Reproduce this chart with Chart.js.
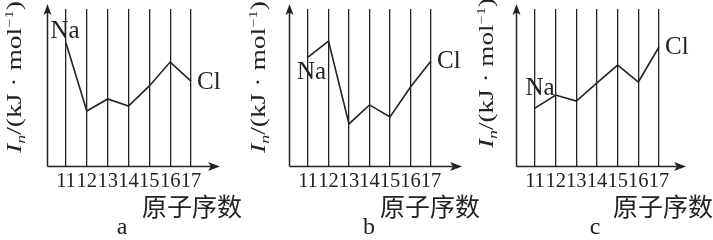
<!DOCTYPE html>
<html><head><meta charset="utf-8">
<script src="https://cdn.jsdelivr.net/npm/chart.js@4.4.1/dist/chart.umd.min.js"></script>
<style>
html,body{margin:0;padding:0;background:#fff;}
body{position:relative;width:713px;height:240px;overflow:hidden;}
.panel{position:absolute;top:0;height:240px;}
canvas{display:block;}
</style></head><body>
<div class="panel" style="left:0px;width:242px"><canvas id="ca" width="242" height="240"></canvas></div>
<div class="panel" style="left:240px;width:240px"><canvas id="cb" width="240" height="240"></canvas></div>
<div class="panel" style="left:473px;width:240px"><canvas id="cc" width="240" height="240"></canvas></div>
<script>
// ---- data ----
const atomicNumbers = [11, 12, 13, 14, 15, 16, 17];
const tickLabels = ['11', '12', '13', '14', '15', '16', '17'];
const valuesA = [78.3, 35.0, 42.7, 38.2, 51.0, 66.2, 54.1];
const valuesB = [69.4, 79.6, 26.8, 38.9, 31.2, 50.3, 66.9];
const valuesC = [36.9, 45.2, 41.4, 52.9, 64.3, 53.5, 75.8];
const panelLetters = ['a', 'b', 'c'];
const firstElement = 'Na';
const lastElement = 'Cl';
const xAxisTitle = '原子序数';
const yTitleMain = 'I';
const yTitleSub = 'n';
const yTitleMid = '/(kJ · mol';
const yTitleSup = '−1';
const yTitleEnd = ')';

// ---- style / layout ----
const INK = '#222';
const SERIF = '"Liberation Serif", "Times New Roman", serif';
const CJK = '"Noto Sans CJK SC", "Noto Sans CJK JP", sans-serif';

const panels = [
  {id:'ca', values:valuesA, letter:panelLetters[0], width:242, axisX:47, firstLine:66, lastLine:191, letterCenter:122, arrowExtra:29,
   naOffset:[-1,-12], naAlign:'center', clOffset:[6,1], yTitleBase:21, yTitleStart:153, yTitleLen:152},
  {id:'cb', values:valuesB, letter:panelLetters[1], width:240, axisX:49, firstLine:68, lastLine:191, letterCenter:129, arrowExtra:31,
   naOffset:[3.5,15], naAlign:'center', clOffset:[6,0.5], yTitleBase:25, yTitleStart:153, yTitleLen:152},
  {id:'cc', values:valuesC, letter:panelLetters[2], width:240, axisX:43, firstLine:62, lastLine:186, letterCenter:122, arrowExtra:27,
   naOffset:[5,-20], naAlign:'center', clOffset:[6,0], yTitleBase:20, yTitleStart:148, yTitleLen:150}
];

function makeDeco(p){
  return {
    id:'deco_' + p.id,
    afterDraw(chart){
      const ctx = chart.ctx, ca = chart.chartArea, x = chart.scales.x;
      ctx.save();
      ctx.strokeStyle = INK; ctx.fillStyle = INK; ctx.lineWidth = 1.5;
      // y axis with arrow
      const ax = Math.round(ca.left) + 0.5, ay = Math.round(ca.bottom) + 0.5;
      const yTip = ca.top - 5;
      ctx.beginPath(); ctx.moveTo(ax, ay); ctx.lineTo(ax, yTip + 6); ctx.stroke();
      ctx.beginPath(); ctx.moveTo(ax, yTip); ctx.lineTo(ax - 4, yTip + 11); ctx.lineTo(ax, yTip + 8.5); ctx.lineTo(ax + 4, yTip + 11); ctx.closePath(); ctx.fill();
      // x axis with arrow
      const xTip = x.getPixelForValue(atomicNumbers[atomicNumbers.length - 1]) + p.arrowExtra;
      ctx.beginPath(); ctx.moveTo(ax, ay); ctx.lineTo(xTip - 6, ay); ctx.stroke();
      ctx.beginPath(); ctx.moveTo(xTip, ay); ctx.lineTo(xTip - 12, ay - 4.5); ctx.lineTo(xTip - 9, ay); ctx.lineTo(xTip - 12, ay + 4.5); ctx.closePath(); ctx.fill();
      // element labels
      const pts = chart.getDatasetMeta(0).data;
      const f = pts[0], l = pts[pts.length - 1];
      ctx.font = '25px ' + SERIF;
      ctx.textBaseline = 'middle';
      ctx.textAlign = p.naAlign;
      ctx.fillText(firstElement, f.x + p.naOffset[0], f.y + p.naOffset[1]);
      ctx.textAlign = 'left';
      ctx.fillText(lastElement, l.x + p.clOffset[0], l.y + p.clOffset[1]);
      // y-axis title (rotated, mixed styles)
      const parts = [
        {t:yTitleMain, font:'italic 20px ' + SERIF, dy:0},
        {t:yTitleSub, font:'italic 13px ' + SERIF, dy:4},
        {t:yTitleMid, font:'20px ' + SERIF, dy:0},
        {t:yTitleSup, font:'12px ' + SERIF, dy:-8},
        {t:yTitleEnd, font:'20px ' + SERIF, dy:0}
      ];
      let total = 0;
      parts.forEach(pt => { ctx.font = pt.font; pt.w = ctx.measureText(pt.t).width; total += pt.w; });
      const sx = p.yTitleLen / total;
      ctx.translate(p.yTitleBase, p.yTitleStart);
      ctx.rotate(-Math.PI / 2);
      ctx.scale(sx, 1);
      ctx.textAlign = 'left'; ctx.textBaseline = 'alphabetic';
      let cx = 0;
      parts.forEach(pt => { ctx.font = pt.font; ctx.fillText(pt.t, cx, pt.dy); cx += pt.w; });
      ctx.restore();
    }
  };
}

function build(p){
  const n = atomicNumbers.length;
  const sp = (p.lastLine - p.firstLine) / (n - 1);
  const x0 = atomicNumbers[0];
  const xmin = x0 - (p.firstLine - p.axisX) / sp;
  const xmax = x0 + (p.width - p.firstLine) / sp;
  const padL = 2 * p.letterCenter - p.width;
  new Chart(document.getElementById(p.id), {
    type:'line',
    data:{datasets:[{
      data: atomicNumbers.map((v, i) => ({x:v, y:p.values[i]})),
      borderColor:INK, borderWidth:1.6, pointRadius:0, tension:0, fill:false
    }]},
    options:{
      responsive:false, animation:false, devicePixelRatio:1,
      layout:{padding:{left:padL, right:0, top:9, bottom:0}},
      plugins:{
        legend:{display:false}, tooltip:{enabled:false},
        title:{display:true, position:'bottom', text:p.letter, color:INK,
               font:{family:SERIF, size:24, weight:'normal', lineHeight:1}, padding:0}
      },
      scales:{
        x:{type:'linear', min:xmin, max:xmax, offset:false,
           afterBuildTicks: s => { s.ticks = atomicNumbers.map(v => ({value:v})); },
           afterFit: s => { s.height = 50; },
           ticks:{autoSkip:false, maxRotation:0, minRotation:0, padding:3, color:INK,
                  font:{family:SERIF, size:20.5, lineHeight:1.2},
                  callback: v => tickLabels[atomicNumbers.indexOf(v)]},
           grid:{display:true, drawOnChartArea:true, drawTicks:false, color:INK, lineWidth:1.3},
           border:{display:false},
           title:{display:true, text:xAxisTitle, align:'end', color:INK,
                  font:{family:CJK, size:25, lineHeight:0.8}, padding:0}},
        y:{type:'linear', min:0, max:100, display:true,
           afterFit: s => { s.width = p.axisX - padL; },
           ticks:{display:false}, grid:{display:false}, border:{display:false}}
      }
    },
    plugins:[makeDeco(p)]
  });
}
panels.forEach(build);
</script>
</body></html>
